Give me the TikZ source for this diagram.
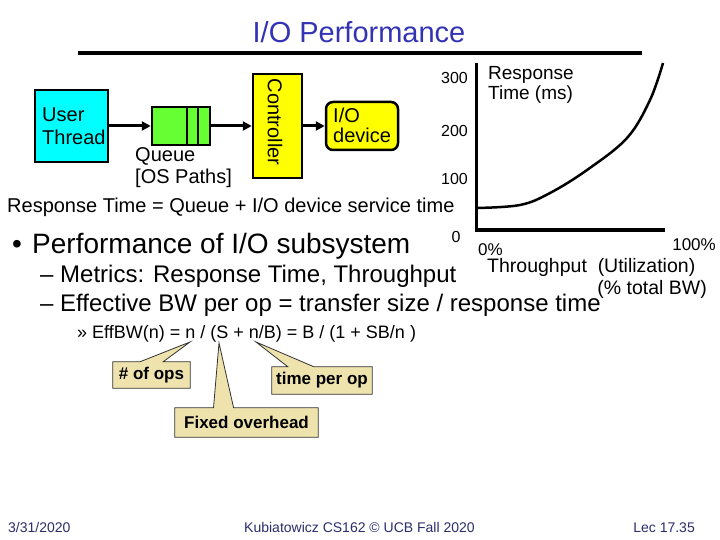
\documentclass[tikz,border=0pt]{standalone}
\usepackage{fontspec}
\setmainfont{Liberation Sans}
\usetikzlibrary{arrows.meta,backgrounds,calc}
\definecolor{ttl}{RGB}{51,51,179}
\definecolor{foot}{RGB}{45,45,110}
\definecolor{cyanbox}{RGB}{0,255,255}
\definecolor{greenbox}{RGB}{102,255,51}
\definecolor{yellowbox}{RGB}{255,255,0}
\definecolor{tanfill}{RGB}{238,227,173}
\newcommand{\fsz}[1]{\fontsize{#1}{#1}\selectfont}
\begin{document}
\begin{tikzpicture}[x=1pt,y=-1pt,
  txt/.style={inner sep=0pt, anchor=base west},
  boxst/.style={draw=black, line width=2.5pt, inner sep=0pt},
  arr/.style={line width=3pt, -{Triangle[length=9pt,width=9pt]}},
  callout/.style={draw=black!80, line width=0.8pt, fill=tanfill, line join=miter},
  lbl/.style={inner sep=0pt, font=\fsz{17}\bfseries}]
\begin{scope}[on background layer]
  \fill[white] (0,0) rectangle (720,540);
\end{scope}
\useasboundingbox (0,0) rectangle (720,540);

% title and rule
\node[txt, anchor=base, text=ttl, font=\fsz{29}] (title) at (359,43) {I/O Performance};
\coordinate (ruleL) at (78,53);
\coordinate (ruleR) at (642,53);
\draw[line width=4pt] (ruleL) -- (ruleR);

% queue diagram
\node[boxst, fill=cyanbox, minimum width=73pt, minimum height=72pt] (user) at (71.5,126) {};
\node[txt, font=\fsz{20}] (userA) at (42,122) {User};
\node[txt, font=\fsz{20}] (userB) at (42,145) {Thread};
\node[boxst, fill=greenbox, minimum width=58pt, minimum height=38pt] (queue) at (181,126) {};
\draw[line width=2.5pt] ($(queue.north west)+(36,0)$) -- ($(queue.south west)+(36,0)$);
\draw[line width=2.5pt] ($(queue.north west)+(47,0)$) -- ($(queue.south west)+(47,0)$);
\node[txt, font=\fsz{20}] (qA) at (135,162) {Queue};
\node[txt, font=\fsz{20}] (qB) at (135,184) {[OS Paths]};
\node[boxst, fill=yellowbox, minimum width=49pt, minimum height=104pt] (ctrl) at (277.5,126) {};
\node[inner sep=0pt, rotate=-90, font=\fsz{20}] (ctrlT) at (275,122) {Controller};
\node[boxst, fill=yellowbox, rounded corners=7pt, minimum width=72pt, minimum height=48pt] (dev) at (362,126) {};
\node[txt, font=\fsz{20}] (devA) at (333,123) {I/O};
\node[txt, font=\fsz{20}] (devB) at (333,143) {device};
\draw[arr] (user) -- (queue);
\draw[arr] (queue) -- (ctrl);
\draw[arr] (ctrl) -- (dev);
\node[txt, font=\fsz{20}] (resp) at (7,213) {Response Time = Queue + I/O device service time};

% graph
\coordinate (ytop) at (476,63);
\coordinate (orig) at (476,230);
\coordinate (xend) at (665,230);
\draw[line width=3pt, line join=miter] (ytop) -- (orig) -- (xend);
\draw[line width=2.5pt] plot[smooth, tension=0.6] coordinates {(476,208) (520,205) (550,193) (587,170) (627,138) (650,100) (663,63)};
\node[txt, anchor=base east, font=\fsz{16}] (t300) at (468,84) {300};
\node[txt, anchor=base east, font=\fsz{16}] (t200) at (468,137) {200};
\node[txt, anchor=base east, font=\fsz{16}] (t100) at (468,185) {100};
\node[txt, anchor=base, font=\fsz{16}] (t0) at (456,243) {0};
\node[txt, font=\fsz{19}] (rtA) at (488,80) {Response};
\node[txt, font=\fsz{19}] (rtB) at (488,100) {Time (ms)};
\node[txt, font=\fsz{17}] (p0) at (478,255) {0\%};
\node[txt, anchor=base east, font=\fsz{17}] (p100) at (716,250) {100\%};
\node[txt, font=\fsz{19.5}] (thr) at (487,272) {Throughput\ \ (Utilization)};
\node[txt, anchor=base east, font=\fsz{19.5}] (bw) at (707,294) {(\% total BW)};

% bullets
\node[txt, font=\fsz{28}] (b1) at (12,253) {•};
\node[txt, font=\fsz{28}] (l1) at (32,253) {Performance of I/O subsystem};
\node[txt, font=\fsz{24}] (l2) at (40,282) {– Metrics: Response Time, Throughput};
\node[txt, font=\fsz{24}] (l3) at (40,311) {– Effective BW per op = transfer size / response time};
\node[txt, font=\fsz{18}] (l4) at (77,338) {» EffBW(n) = n / (S + n/B) = B / (1 + SB/n )};

% callouts
\coordinate (tipops) at (190,342);
\coordinate (tipfix) at (219,343);
\coordinate (tiptime) at (256,342);
\node[lbl, minimum width=77pt, minimum height=26pt] (ops) at (151.5,375) {\# of ops};
\node[lbl, minimum width=100pt, minimum height=27pt] (time) at (322,380.5) {time per op};
\node[lbl, minimum width=143pt, minimum height=29pt] (fix) at (246.5,422.5) {Fixed overhead};
\begin{scope}[on background layer]
\draw[callout] (ops.north west) -- ($(ops.north west)!.35!(ops.north east)$) -- (tipops) -- ($(ops.north west)!.65!(ops.north east)$) -- (ops.north east) -- (ops.south east) -- (ops.south west) -- cycle;
\draw[callout] (time.north west) -- ($(time.north west)!.16!(time.north east)$) -- (tiptime) -- ($(time.north west)!.42!(time.north east)$) -- (time.north east) -- (time.south east) -- (time.south west) -- cycle;
\draw[callout] (fix.north west) -- ($(fix.north west)!.27!(fix.north east)$) -- (tipfix) -- ($(fix.north west)!.41!(fix.north east)$) -- (fix.north east) -- (fix.south east) -- (fix.south west) -- cycle;
\end{scope}

% footer
\node[txt, text=foot, font=\fsz{14}] (date) at (8,532) {3/31/2020};
\node[txt, anchor=base, text=foot, font=\fsz{14}] (course) at (359.5,532) {Kubiatowicz CS162 © UCB Fall 2020};
\node[txt, anchor=base east, text=foot, font=\fsz{14}] (lec) at (695,532) {Lec 17.35};
\end{tikzpicture}
\end{document}
